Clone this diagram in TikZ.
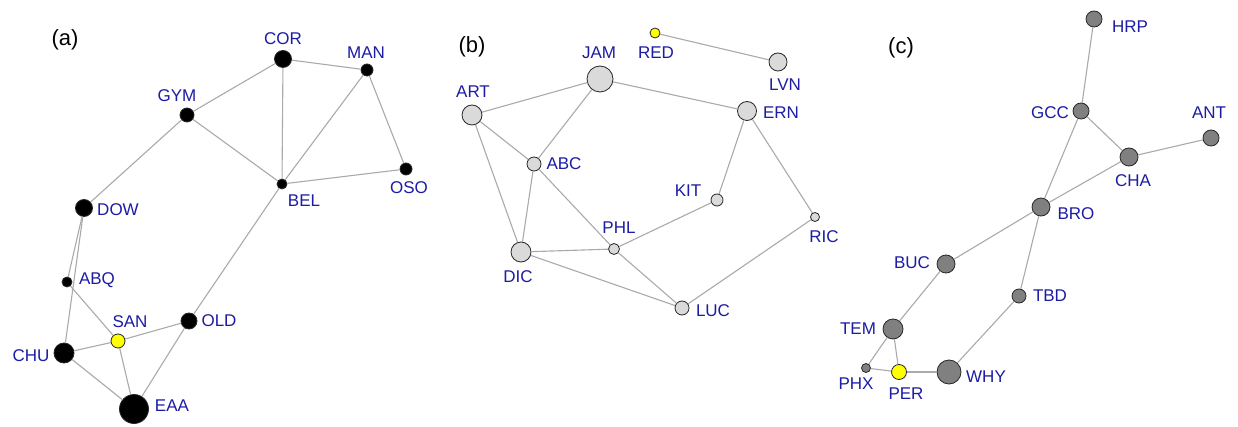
\documentclass[tikz,border=0pt]{standalone}
\usepackage{fontspec}
\setmainfont{Liberation Sans}
\definecolor{lbl}{RGB}{28,28,165}
\definecolor{edg}{RGB}{170,170,170}
\definecolor{lgray}{RGB}{218,218,218}
\definecolor{dgray}{RGB}{128,128,128}
\definecolor{yel}{RGB}{255,255,0}
\tikzset{
  vtx/.style={circle,draw=black!85,line width=0.8pt,inner sep=0pt,minimum size=#1},
  blk/.style={vtx=#1,fill=black},
  lg/.style={vtx=#1,fill=lgray},
  dg/.style={vtx=#1,fill=dgray},
  yl/.style={vtx=#1,fill=yel},
  lab/.style={text=lbl,font=\fontsize{17}{19}\selectfont,inner sep=0pt,anchor=center},
  panel/.style={text=black,font=\fontsize{22}{24}\selectfont,inner sep=0pt},
  edge/.style={draw=edg,line width=1.1pt}
}
\begin{document}
\begin{tikzpicture}[x=1pt,y=-1pt]
\useasboundingbox (0,0) rectangle (1238,427);
\fill[white] (0,0) rectangle (1238,427);
% ---------------- panel (a)
\node[panel] (pa) at (65,40) {(a)};
\node[blk=17pt] (COR) at (283,59) {};
\node[blk=12pt] (MAN) at (367,70) {};
\node[blk=14pt] (GYM) at (187,115) {};
\node[blk=10pt] (BEL) at (282,184) {};
\node[blk=12pt] (OSO) at (406,169) {};
\node[blk=17pt] (DOW) at (84,208) {};
\node[blk=10pt] (ABQ) at (67,282) {};
\node[yl=14pt] (SAN) at (118,341) {};
\node[blk=16pt] (OLD) at (189,321) {};
\node[blk=20pt] (CHU) at (64,353) {};
\node[blk=29pt] (EAA) at (134,409) {};
\foreach \a/\b in {COR/GYM,COR/MAN,COR/BEL,MAN/BEL,MAN/OSO,BEL/OSO,GYM/BEL,GYM/DOW,DOW/ABQ,DOW/CHU,ABQ/SAN,BEL/OLD,OLD/SAN,OLD/EAA,SAN/CHU,SAN/EAA,CHU/EAA}
  \draw[edge] (\a) -- (\b);
\node[lab] (lCOR) at (283,39) {COR};
\node[lab] (lMAN) at (366,53) {MAN};
\node[lab] (lGYM) at (177,96) {GYM};
\node[lab] (lBEL) at (304,201) {BEL};
\node[lab] (lOSO) at (409,188) {OSO};
\node[lab] (lDOW) at (118,210) {DOW};
\node[lab] (lABQ) at (97,280) {ABQ};
\node[lab] (lSAN) at (130,322) {SAN};
\node[lab] (lOLD) at (219,321) {OLD};
\node[lab] (lCHU) at (31,356) {CHU};
\node[lab] (lEAA) at (172,406) {EAA};
% ---------------- panel (b)
\node[panel] (pb) at (472,47) {(b)};
\node[lg=26pt] (JAM) at (600,79) {};
\node[yl=10pt] (RED) at (655,33) {};
\node[lg=18pt] (LVN) at (778,62) {};
\node[lg=20pt] (ART) at (472,115) {};
\node[lg=19pt] (ERN) at (747,111) {};
\node[lg=14pt] (ABC) at (534,164) {};
\node[lg=12pt] (KIT) at (717,200) {};
\node[lg=9pt] (RIC) at (815,217) {};
\node[lg=11pt] (PHL) at (614,249) {};
\node[lg=20pt] (DIC) at (521,252) {};
\node[lg=14pt] (LUC) at (682,308) {};
\foreach \a/\b in {RED/LVN,ART/JAM,JAM/ERN,JAM/ABC,ART/ABC,ART/DIC,ABC/DIC,ABC/PHL,PHL/LUC,ERN/KIT,KIT/PHL,DIC/PHL,DIC/LUC,ERN/RIC,RIC/LUC}
  \draw[edge] (\a) -- (\b);
\node[lab] (lJAM) at (599,53) {JAM};
\node[lab] (lRED) at (656,53) {RED};
\node[lab] (lLVN) at (785,85) {LVN};
\node[lab] (lART) at (473,92) {ART};
\node[lab] (lERN) at (781,113) {ERN};
\node[lab] (lABC) at (564,164) {ABC};
\node[lab] (lKIT) at (688,191) {KIT};
\node[lab] (lRIC) at (824,237) {RIC};
\node[lab] (lPHL) at (619,228) {PHL};
\node[lab] (lDIC) at (518,277) {DIC};
\node[lab] (lLUC) at (713,311) {LUC};
% ---------------- panel (c)
\node[panel] (pc) at (901,48) {(c)};
\node[dg=16pt] (HRP) at (1094,19) {};
\node[dg=16pt] (GCC) at (1081,111) {};
\node[dg=16pt] (ANT) at (1211,138) {};
\node[dg=18pt] (CHA) at (1129,157) {};
\node[dg=18pt] (BRO) at (1041,207) {};
\node[dg=18pt] (BUC) at (946,264) {};
\node[dg=14pt] (TBD) at (1019,296) {};
\node[dg=20pt] (TEM) at (893,329) {};
\node[dg=9pt] (PHX) at (866,368) {};
\node[yl=15pt] (PER) at (899,372) {};
\node[dg=24pt] (WHY) at (949,372) {};
\foreach \a/\b in {HRP/GCC,GCC/CHA,GCC/BRO,CHA/ANT,CHA/BRO,BRO/BUC,BRO/TBD,BUC/TEM,TBD/WHY,TEM/PHX,TEM/PER,PHX/PER,PER/WHY}
  \draw[edge] (\a) -- (\b);
\node[lab] (lHRP) at (1130,27) {HRP};
\node[lab] (lGCC) at (1050,113) {GCC};
\node[lab] (lANT) at (1209,113) {ANT};
\node[lab] (lCHA) at (1133,181) {CHA};
\node[lab] (lBRO) at (1076,214) {BRO};
\node[lab] (lBUC) at (912,263) {BUC};
\node[lab] (lTBD) at (1050,296) {TBD};
\node[lab] (lTEM) at (858,329) {TEM};
\node[lab] (lPHX) at (856,384) {PHX};
\node[lab] (lPER) at (906,394) {PER};
\node[lab] (lWHY) at (986,377) {WHY};
\end{tikzpicture}
\end{document}
